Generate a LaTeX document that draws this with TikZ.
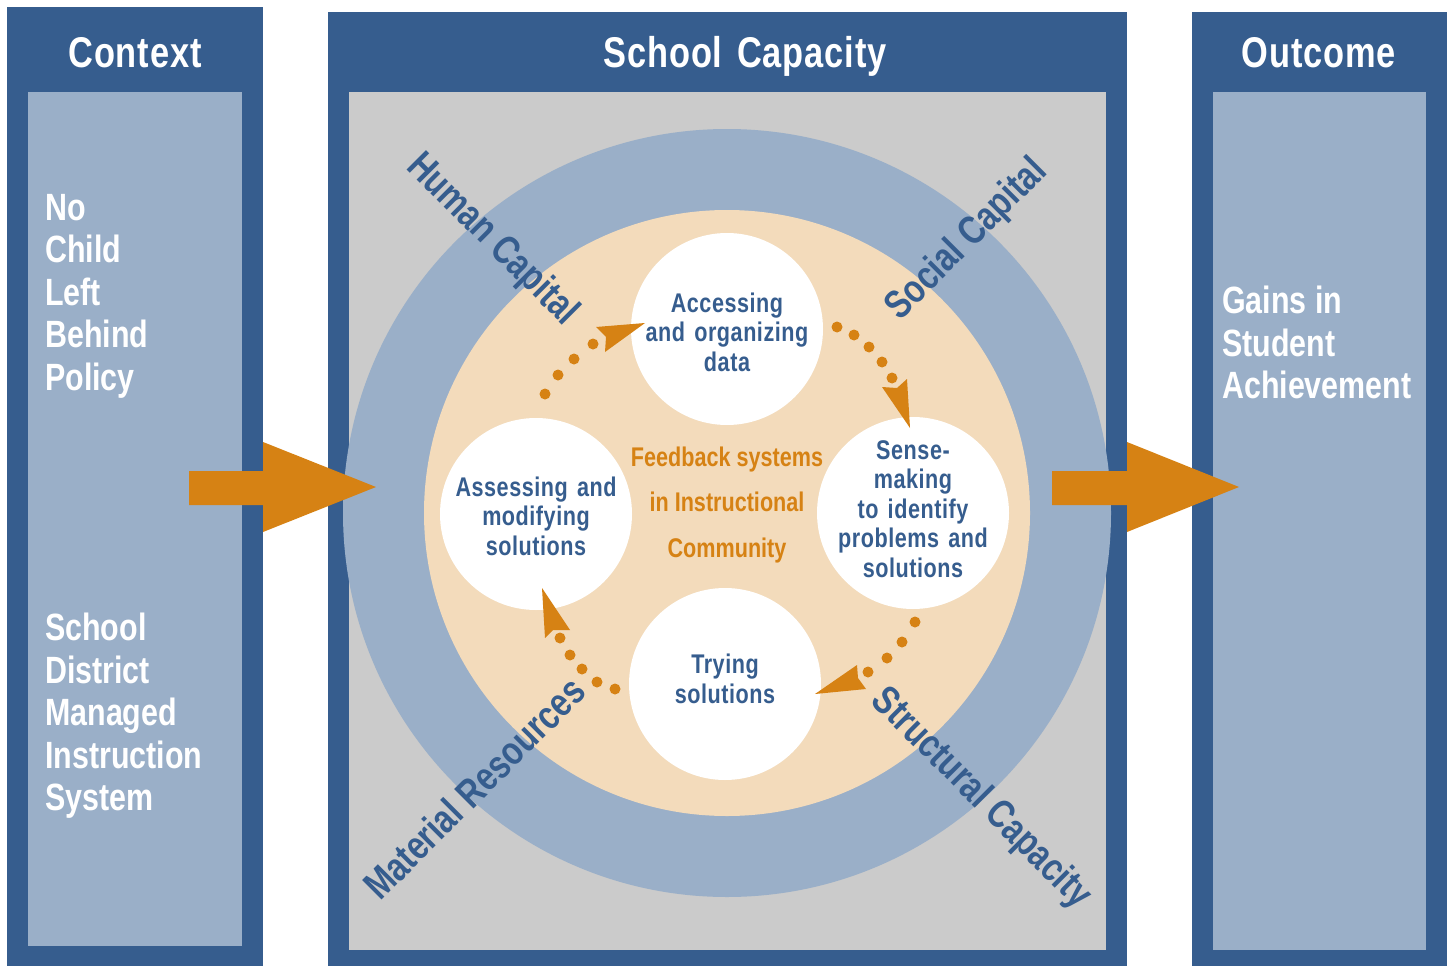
\documentclass[tikz,border=0pt]{standalone}
\usepackage{fontspec}
\newfontfamily\cf{Liberation Sans}[FakeStretch=0.8]
\newfontfamily\cfs{Liberation Sans}[FakeStretch=0.8, LetterSpace=2, WordSpace=1.4]
\definecolor{dblue}{HTML}{365D8E}
\definecolor{lblue}{HTML}{9AAFC8}
\definecolor{lgray}{HTML}{CBCBCB}
\definecolor{beige}{HTML}{F3DBBB}
\definecolor{orng}{HTML}{D68214}
\tikzset{
  title/.style={text=white, font=\cfs\bfseries\fontsize{43}{48}\selectfont, inner sep=0pt, anchor=base},
  sidetext/.style={text=white, font=\cf\bfseries\fontsize{38}{42.5}\selectfont, inner sep=0pt, align=left, anchor=north west},
  wcirc/.style={circle, fill=white, minimum size=192pt, inner sep=0pt},
  ctext/.style={text=dblue, font=\cfs\bfseries\fontsize{27}{29.5}\selectfont, inner sep=0pt, align=center},
  fbtext/.style={text=orng, font=\cf\bfseries\fontsize{27}{45.5}\selectfont, inner sep=0pt, align=center},
  diag/.style={text=dblue, font=\cf\bfseries\fontsize{40}{44}\selectfont, inner sep=0pt},
  dot/.style={fill=orng},
  tip/.style={fill=orng},
  bigarrow/.style={fill=orng}
}
\begin{document}
\begin{tikzpicture}[x=1pt,y=-1pt]
\useasboundingbox (0,0) rectangle (1453,966);
\fill[white] (0,0) rectangle (1453,966);
% panels
\fill[dblue] (7,7) rectangle (263,966);
\fill[lblue] (28,92) rectangle (242,946);
\fill[dblue] (328,12) rectangle (1127,966);
\fill[lgray] (349,92) rectangle (1106,950);
\fill[dblue] (1192,12) rectangle (1447,966);
\fill[lblue] (1213,92) rectangle (1426,950);
% titles
\node[title] (tctx) at (135,67) {Context};
\node[title] (tcap) at (745,67) {School Capacity};
\node[title] (tout) at (1319,67) {Outcome};
% side texts
\node[sidetext] (nclb) at (45,194) {No\\Child\\Left\\Behind\\Policy};
\node[sidetext] (sdmi) at (45,613) {School\\District\\Managed\\Instruction\\System};
\node[sidetext] (gain) at (1222,286) {Gains in\\Student\\Achievement};
% rings
\coordinate (c) at (727,513);
\fill[lblue] (c) circle (384);
\fill[beige] (c) circle (303);
% diagonal labels
\node[diag, rotate=-45] (hc) at (492,240) {Human Capital};
\node[diag, rotate=45] (sc) at (967,240) {Social Capital};
\node[diag, rotate=45] (mr) at (474,788) {Material Resources};
\node[diag, rotate=-45] (stc) at (981,799) {Structural Capacity};
% white circles
\node[wcirc] (acc) at (727,329) {};
\node[wcirc] (ass) at (536,514) {};
\node[wcirc] (sen) at (913,513) {};
\node[wcirc] (try) at (725,684) {};
\node[ctext] (acct) at (727,332) {Accessing\\and organizing\\data};
\node[ctext] (asst) at (536,516) {Assessing and\\modifying\\solutions};
\node[ctext] (sent) at (913,509) {Sense-\\making\\to identify\\problems and\\solutions};
\node[ctext] (tryt) at (725,679) {Trying\\solutions};
\node[fbtext] (fb) at (727,505) {Feedback systems\\in Instructional\\Community};
% dotted arrows
\foreach \p in {(545,394),(558,375),(574,359),(593,344)} \fill[dot] \p circle (5.5);
\fill[tip] (645,323) -- (605,352) -- (606,337) -- (596,327) -- cycle;
\foreach \p in {(837,327),(854,335),(869,347),(882,362),(892,378)} \fill[dot] \p circle (5.5);
\fill[tip] (910,428) -- (882,387) -- (897,388) -- (907,379) -- cycle;
\foreach \p in {(915,622),(902,642),(887,658),(868,672)} \fill[dot] \p circle (5.5);
\fill[tip] (815,694) -- (857,665) -- (858,678) -- (866,689) -- cycle;
\foreach \p in {(615,689),(597,682),(582,669),(570,655),(560,638)} \fill[dot] \p circle (5.5);
\fill[tip] (542,588) -- (570,630) -- (553,630) -- (545,638) -- cycle;
% big arrows
\fill[bigarrow] (189,471) -- (263,471) -- (263,442) -- (376,487) -- (263,532) -- (263,505) -- (189,505) -- cycle;
\fill[bigarrow] (1052,471) -- (1127,471) -- (1127,442) -- (1239,487) -- (1127,532) -- (1127,505) -- (1052,505) -- cycle;
\end{tikzpicture}
\end{document}
